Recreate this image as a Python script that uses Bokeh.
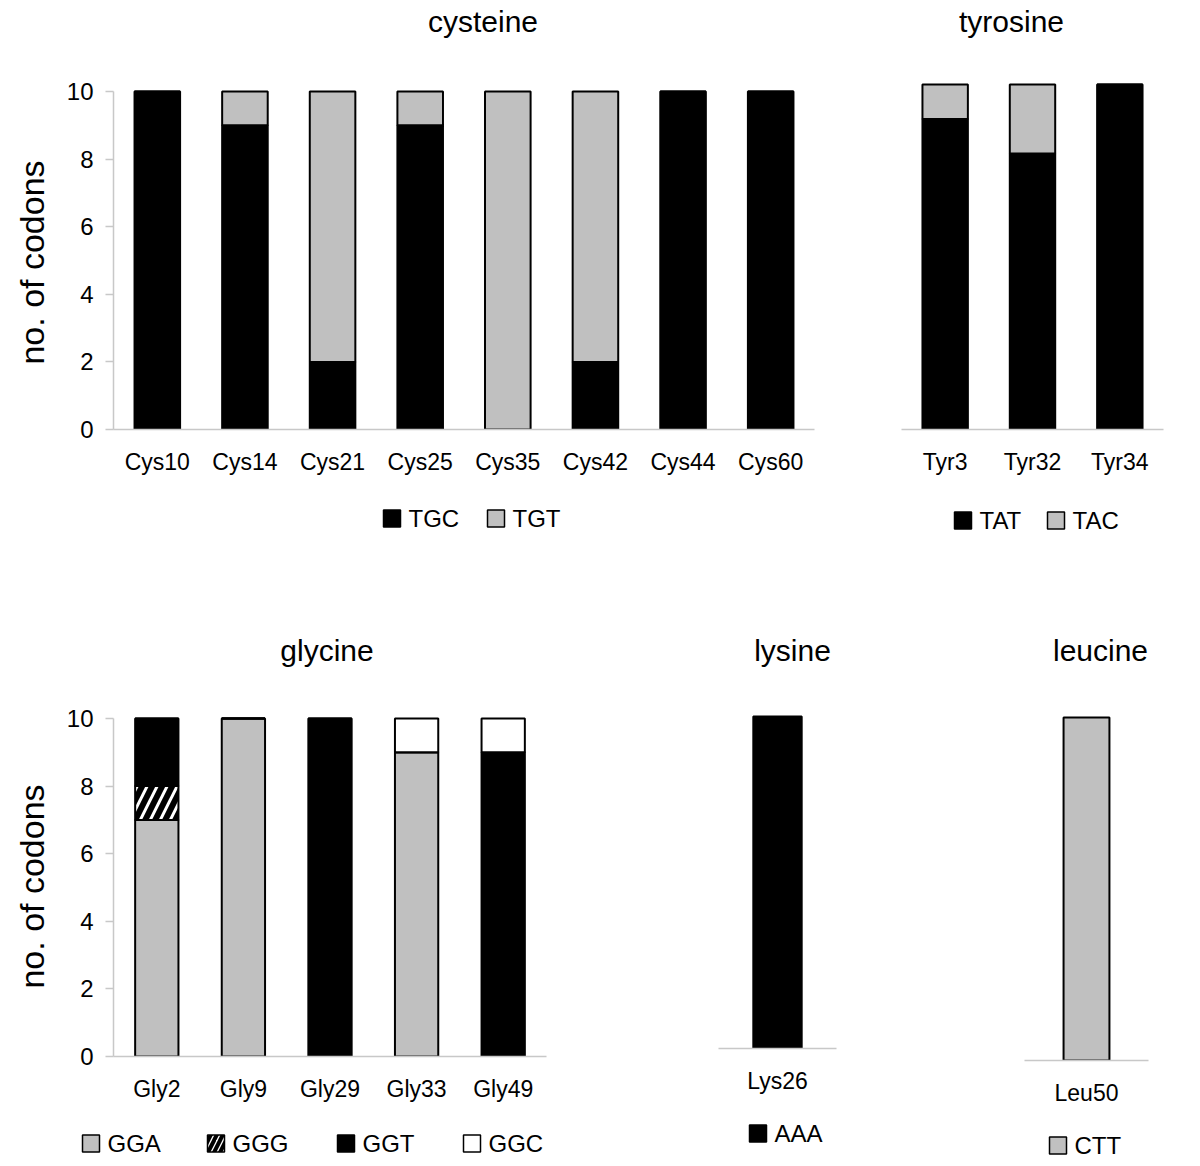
import math
from bokeh.plotting import figure
from bokeh.models import (ColumnDataSource, FactorRange, Range1d, FixedTicker, Label)
from bokeh.core.properties import value
from bokeh.layouts import column, row
from bokeh.embed import file_html
from bokeh.resources import INLINE

# ---------------- data ----------------
cys_labels = ["Cys10", "Cys14", "Cys21", "Cys25", "Cys35", "Cys42", "Cys44", "Cys60"]
cys_TGC = [10, 9, 2, 9, 0, 2, 10, 10]
cys_TGT = [0, 1, 8, 1, 10, 8, 0, 0]

tyr_labels = ["Tyr3", "Tyr32", "Tyr34"]
tyr_TAT = [9, 8, 10]
tyr_TAC = [1, 2, 0]

gly_labels = ["Gly2", "Gly9", "Gly29", "Gly33", "Gly49"]
gly_GGA = [7, 10, 0, 9, 0]
gly_GGG = [1, 0, 0, 0, 0]
gly_GGT = [2, 0, 10, 0, 9]
gly_GGC = [0, 0, 0, 1, 1]

lys_labels = ["Lys26"]
lys_AAA = [10]

leu_labels = ["Leu50"]
leu_CTT = [10]

y_ticks = [0, 2, 4, 6, 8, 10]
y_max = 10
y_title = "no. of codons"

# ---------------- styles ----------------
FONT = "Liberation Sans"
GRAY = "#c0c0c0"
AXIS = "#c8c8c8"
BLACK_S = dict(fill_color="black", hatch=False)
GRAY_S = dict(fill_color=GRAY, hatch=False)
WHITE_S = dict(fill_color="white", hatch=False)
HATCH_S = dict(fill_color="white", hatch=True)
AXIS_AREA = 60   # pixels under each chart frame for the category labels
YL_W = 50        # width of the strip holding the y axis title
SW = 17          # legend swatch size


def style_glyph(glyph, st):
    glyph.fill_color = st["fill_color"]
    glyph.line_color = "black"
    glyph.line_width = 2
    if st["hatch"]:
        glyph.hatch_pattern = "right_diagonal_line"
        glyph.hatch_color = "black"
        glyph.hatch_weight = 6
        glyph.hatch_scale = 20


def blank_fig(w, h):
    f = figure(x_range=Range1d(0, w), y_range=Range1d(0, h), width=w, height=h,
               output_backend="svg", toolbar_location=None, tools="",
               min_border=0, x_axis_location=None, y_axis_location=None)
    f.outline_line_color = None
    f.xgrid.visible = False
    f.ygrid.visible = False
    return f


def panel(cats, keys, vals, styles, title, ox, oy, W, H, fl, fw, fh, top_gap,
          bar_w, show_y, t_dx, t_dy, leg_sw_x, leg_cy, ylab_cy=None):
    # ox, oy: page position of this panel's top-left corner
    y_end = y_max * fh / (fh - top_gap)
    data = {"cat": cats}
    for k, v in zip(keys, vals):
        data[k] = v
    src = ColumnDataSource(data)
    cw = W - YL_W if show_y else W
    cl = fl - YL_W if show_y else fl
    ch = fh + AXIS_AREA
    p = figure(x_range=FactorRange(factors=cats), y_range=Range1d(0, y_end),
               width=cw, height=ch, output_backend="svg",
               toolbar_location=None, tools="",
               min_border_left=cl, min_border_right=cw - cl - fw,
               min_border_top=0, min_border_bottom=AXIS_AREA,
               y_axis_location="left" if show_y else None)
    p.outline_line_color = None
    p.xgrid.visible = False
    p.ygrid.visible = False

    rs = p.vbar_stack(keys, x="cat", width=bar_w, source=src)
    for r, st in zip(rs, styles):
        style_glyph(r.glyph, st)

    xa = p.xaxis[0]
    xa.axis_line_color = AXIS
    xa.axis_line_width = 1.5
    xa.major_tick_line_color = None
    xa.minor_tick_line_color = None
    xa.major_label_text_font = FONT
    xa.major_label_text_font_size = "23px"
    xa.major_label_text_color = "black"
    xa.major_label_standoff = 13

    if show_y:
        ya = p.yaxis[0]
        ya.bounds = (0, y_max)
        ya.ticker = FixedTicker(ticks=y_ticks)
        ya.axis_line_color = AXIS
        ya.axis_line_width = 1.5
        ya.major_tick_line_color = AXIS
        ya.major_tick_line_width = 1.5
        ya.major_tick_out = 8
        ya.major_tick_in = 0
        ya.minor_tick_line_color = None
        ya.major_label_text_font = FONT
        ya.major_label_text_font_size = "24px"
        ya.major_label_text_color = "black"
        ya.major_label_standoff = 12

    p.add_layout(Label(x=len(cats) / 2, y=y_max, x_offset=t_dx, y_offset=t_dy,
                       text=title, text_align="center", text_baseline="middle",
                       text_font=FONT, text_font_size="30px", text_color="black"))

    # nesting keeps Bokeh from aligning the frames of neighbouring figures
    if show_y:
        yl = blank_fig(YL_W, ch)
        yl.add_layout(Label(x=31, y=ch - (ylab_cy - oy), text=y_title,
                            angle=math.pi / 2, text_align="center",
                            text_baseline="middle", text_font=FONT,
                            text_font_size="34px", text_color="black"))
        top = row(column(yl, spacing=0), column(p, spacing=0), spacing=0)
    else:
        top = row(column(p, spacing=0), spacing=0)

    # legend strip below the chart
    lh = H - ch
    lf = blank_fig(W, lh)
    ly = lh - (leg_cy - (oy + ch))
    for k, st, sx in zip(keys, styles, leg_sw_x):
        xl = sx - ox
        r = lf.scatter(x=[xl + SW / 2], y=[ly], marker="square", size=SW)
        style_glyph(r.glyph, st)
        r.glyph.line_width = 1.5
        if st["hatch"]:
            r.glyph.hatch_scale = 12
            r.glyph.hatch_weight = 4
        lf.text(x=[xl + SW + 8], y=[ly], text=[k], text_font=value(FONT),
                text_font_size=value("24px"), text_baseline="middle",
                text_align="left", text_color="black")
    return column(top, row(lf, spacing=0), spacing=0)


c_cys = panel(cys_labels, ["TGC", "TGT"], [cys_TGC, cys_TGT], [BLACK_S, GRAY_S],
              "cysteine", 0, 0, 868, 598, 113, 701, 429, 91, 0.52, True,
              19, 70, [383, 487], 518, ylab_cy=262)
c_tyr = panel(tyr_labels, ["TAT", "TAC"], [tyr_TAT, tyr_TAC], [BLACK_S, GRAY_S],
              "tyrosine", 868, 0, 324, 598, 33, 262, 429, 84, 0.52, False,
              -21, 63, [954, 1047], 520)
c_gly = panel(gly_labels, ["GGA", "GGG", "GGT", "GGC"],
              [gly_GGA, gly_GGG, gly_GGT, gly_GGC],
              [GRAY_S, HATCH_S, BLACK_S, WHITE_S],
              "glycine", 0, 598, 648, 562, 113, 433, 458, 120, 0.5, True,
              -3, 68, [82, 207, 337, 463], 1143, ylab_cy=886)
c_lys = panel(lys_labels, ["AAA"], [lys_AAA], [BLACK_S],
              "lysine", 648, 598, 292, 562, 70, 118, 450, 118, 0.41, False,
              15, 66, [749], 1133)
c_leu = panel(leu_labels, ["CTT"], [leu_CTT], [GRAY_S],
              "leucine", 940, 598, 252, 562, 84, 124, 462, 119, 0.37, False,
              14, 67, [1049], 1145)

layout = column(row(c_cys, c_tyr, spacing=0), row(c_gly, c_lys, c_leu, spacing=0),
                spacing=0)

with open("out.html", "w") as f:
    f.write(file_html(layout, INLINE))
